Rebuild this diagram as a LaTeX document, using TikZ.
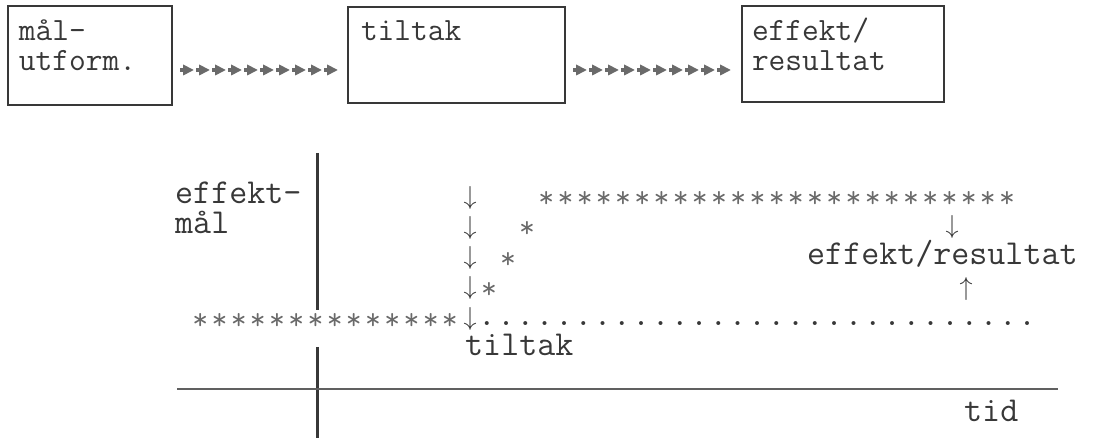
\documentclass[tikz,border=0pt]{standalone}
\usepackage{fontspec}
\usepackage{graphicx}
\usetikzlibrary{decorations.markings}
\definecolor{ink}{HTML}{383838}
\definecolor{starink}{HTML}{6A6A6A}
\newcommand\st{\makebox[19.2pt]{\textcolor{starink}{\raisebox{-3.5pt}{\scalebox{0.88}{*}}}}}
\newcommand\dt{\makebox[19.3pt]{.}}
\newcommand\dn{\scalebox{2.6}{$\downarrow$}}
\newcommand\up{\scalebox{2.6}{$\uparrow$}}
\tikzset{
	tw/.style={font=\ttfamily\fontsize{35}{35}\selectfont, text=ink, inner sep=0pt, anchor=base west},
	twbox/.style={tw, font=\ttfamily\fontsize{32.5}{32.5}\selectfont},
	arr/.style={text=ink, inner sep=0pt, anchor=center},
	box/.style={draw=ink, line width=2.4pt, inner sep=0pt},
	axis/.style={draw=ink, line width=3pt},
	glyphrow/.style={postaction={decorate}, decoration={markings,
		mark=between positions 15pt and 160pt step 16pt with {
			\fill[starink] (-5,-5.5) -- (5.5,0) -- (-5,5.5) -- cycle;
			\fill[starink] (-8.5,-1.8) rectangle (-5,1.8);}}},
}

\begin{document}
\begin{tikzpicture}[x=1pt, y=-1pt]
		\useasboundingbox (0,0) rectangle (1096,438);
		%%%%% boxes %%%%%
		\node[box, minimum width=164pt, minimum height=99pt] (mal) at (90,55.5) {};
		\node[box, minimum width=217pt, minimum height=96pt] (tiltak) at (456.5,55) {};
		\node[box, minimum width=202pt, minimum height=96pt] (effekt) at (843,54) {};
		
		\node[twbox] (malA) at ([shift={(12,36)}]mal.north west) {mål-};
		\node[twbox] (malB) at ([shift={(12,66)}]mal.north west) {utform.};
		\node[twbox] (tiltakA) at ([shift={(14,35)}]tiltak.north west) {tiltak};
		\node[twbox] (effektA) at ([shift={(11,36)}]effekt.north west) {effekt/};
		\node[twbox] (effektB) at ([shift={(11,66)}]effekt.north west) {resultat};
		
		\path[glyphrow] ([yshift=-14.5pt]mal.east) -- ([yshift=-14.5pt]mal.east -| tiltak.west);
		\path[glyphrow] ([yshift=-15pt]tiltak.east) -- ([yshift=-15pt]tiltak.east -| effekt.west);
		
		%%%%% axes %%%%%
		\draw[axis] (317,153) -- (317,310);
		\draw[axis] (317,347) -- (317,438);
		\draw[draw=ink!80, line width=2pt] (177,389) -- (1058,389);
		
		%%%%% rows %%%%%
		\node[tw] (maalA) at (175,204) {effekt-};
		\node[tw] (maalB) at (175,234) {mål};
		
		\node[arr] (d1) at (470,198) {\dn};
		\node[arr] (d2) at (470,228) {\dn};
		\node[arr] (d3) at (470,258) {\dn};
		\node[arr] (d4) at (470,288) {\dn};
		\node[arr] (d5) at (470,319) {\dn};
		
		\node[tw, anchor=base] (s2) at (527,234) {\st};
		\node[tw, anchor=base] (s3) at (508,265) {\st};
		\node[tw, anchor=base] (s4) at (489,295) {\st};
		\node[tw] (top) at (536.5,204)
			{\st\st\st\st\st\st\st\st\st\st\st\st\st\st\st\st\st\st\st\st\st\st\st\st\st};
		\node[tw] (base) at (190.5,326) {\st\st\st\st\st\st\st\st\st\st\st\st\st\st};
		\node[tw] (dots) at (477,326)
			{\dt\dt\dt\dt\dt\dt\dt\dt\dt\dt\dt\dt\dt\dt\dt\dt\dt\dt\dt\dt\dt\dt\dt\dt\dt\dt\dt\dt\dt};
		
		\node[arr] (rd) at (952,227) {\dn};
		\node[tw] (res) at (807,265) {effekt/resultat};
		\node[arr] (ru) at (966,289) {\up};
		
		\node[tw] (tiltakB) at (465,356) {tiltak};
		\node[tw] (tid) at (964,422) {tid};
	\end{tikzpicture}
\end{document}
